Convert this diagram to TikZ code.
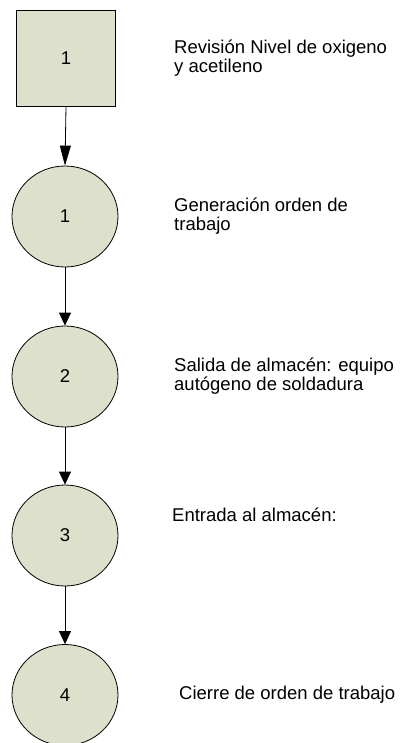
\documentclass[tikz,border=0pt]{standalone}
\usepackage{fontspec}
\setmainfont{Liberation Sans}
\usetikzlibrary{shapes.geometric,arrows.meta}
\definecolor{relleno}{RGB}{221,224,203}
\begin{document}
\begin{tikzpicture}[x=1pt, y=1pt,
squarenode/.style={rectangle, draw=black, fill=relleno, line width=0.8pt, minimum width=99pt, minimum height=96pt, font=\fontsize{18.5}{19}\selectfont},
roundnode/.style={ellipse, draw=black, fill=relleno, line width=0.8pt, inner sep=0pt, minimum width=106pt, minimum height=101pt, font=\fontsize{18.5}{19}\selectfont},
textnode/.style={anchor=west, align=left, inner sep=0pt, font=\fontsize{18.5}{19}\selectfont},
]
\useasboundingbox (0,0) rectangle (414,-743);
%Nodes
\node[squarenode] at (66,-58) (0)     {1};
\node[roundnode] at (65,-216.5) (1)     {1};
\node[roundnode] at (65,-376.5) (2)     {2};
\node[roundnode] at (65,-535.5) (3)     {3};
\node[roundnode] at (65,-695) (4)     {4};
%Texts
\node[textnode] at (174,-58) (0a)     {Revisión Nivel de oxigeno\\y acetileno};
\node[textnode] at (174,-216) (1a)     {Generación orden de\\trabajo};
\node[textnode] at (174,-376) (2a)     {Salida de almacén: equipo\\autógeno de soldadura};
\node[textnode] at (172,-515) (3a)     {Entrada al almacén:};
\node[textnode] at (179,-695) (4a)     {Cierre de orden de trabajo};
%Lines
\draw[-{Triangle[length=20pt, width=11pt]}, line width=0.8pt] (0.south) -- (1.north);
\draw[-{Triangle[length=13pt, width=12pt]}, line width=0.8pt] (1.south) -- (2.north);
\draw[-{Triangle[length=13pt, width=12pt]}, line width=0.8pt] (2.south) -- (3.north);
\draw[-{Triangle[length=13pt, width=12pt]}, line width=0.8pt] (3.south) -- (4.north);
\end{tikzpicture}
\end{document}
